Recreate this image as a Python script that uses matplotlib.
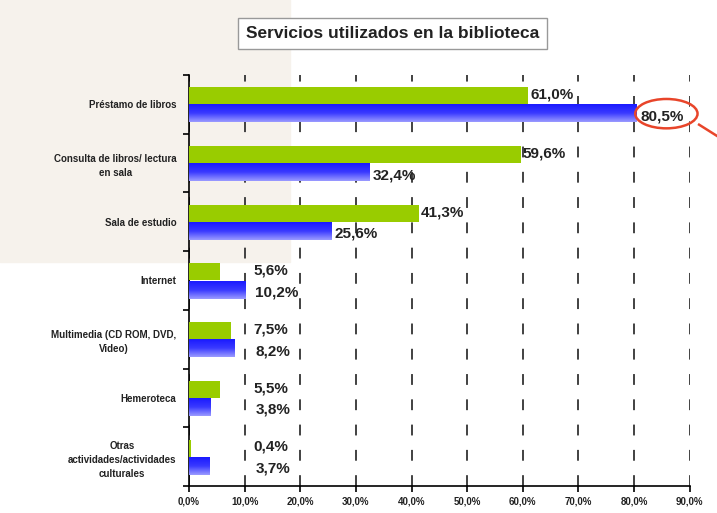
import matplotlib.pyplot as plt
import matplotlib.patches as mpatches
from matplotlib.colors import LinearSegmentedColormap
import numpy as np

plt.rcParams['font.family'] = ['Liberation Sans', 'DejaVu Sans']

categorias = ["Préstamo de libros", "Consulta de libros/ lectura\nen sala", "Sala de estudio",
              "Internet", "Multimedia (CD ROM, DVD,\nVideo)", "Hemeroteca",
              "Otras\nactividades/actividades\nculturales"]
serie_verde = [61.0, 59.6, 41.3, 5.6, 7.5, 5.5, 0.4]
serie_azul = [80.5, 32.4, 25.6, 10.2, 8.2, 3.8, 3.7]
ticks_x = [0, 10, 20, 30, 40, 50, 60, 70, 80, 90]

fig = plt.figure(figsize=(7.17, 5.13), dpi=100)
# faded background photo area
bg = mpatches.Rectangle((0, 0.49), 0.405, 0.51, transform=fig.transFigure,
                        color='#f6f2ec', zorder=-5)
fig.add_artist(bg)
ax = fig.add_axes([0.2636, 0.0526, 0.6984, 0.8014])
ax.set_zorder(2)
ax.patch.set_alpha(0)

n = len(categorias)
y = np.arange(n)
h = 0.29
ax.barh(y - h / 2, serie_verde, height=h, color='#99cc00', zorder=3)
# blue bars with vertical gradient
grad = np.linspace(0, 1, 50).reshape(-1, 1)
cmap = LinearSegmentedColormap.from_list('b', ['#1a1aff', '#3a3aff', '#9a9aff'])
for yi, v in zip(y, serie_azul):
    ax.imshow(grad, cmap=cmap, aspect='auto', extent=(0, v, yi + h + 0.02, yi + 0.02), zorder=3)

for yi, v in zip(y, serie_verde):
    ax.text(max(v, 11.3) + 0.3, yi - h / 2 - 0.02, f"{v:.1f}%".replace('.', ','), fontsize=11,
            va='center', ha='left', color='#222222', fontweight='bold', zorder=5)
for yi, v in zip(y, serie_azul):
    ax.text(max(v, 11.3) + 0.6, yi + h / 2 + 0.06, f"{v:.1f}%".replace('.', ','), fontsize=11,
            va='center', ha='left', color='#222222', fontweight='bold', zorder=5)

ax.set_xlim(0, 90)
ax.set_ylim(n - 0.5, -0.5)
ax.set_xticks(ticks_x)
ax.set_xticklabels([f"{t:.1f}%".replace('.', ',') for t in ticks_x], fontsize=7, fontweight='bold',
                   color='#222222')
ax.set_yticks(y)
ax.set_yticklabels(categorias, fontsize=7, fontweight='bold', color='#222222', multialignment='center',
                   linespacing=1.5)
ax.set_yticks(np.arange(n + 1) - 0.5, minor=True)
ax.tick_params(axis='y', which='major', length=0, pad=9)
ax.tick_params(axis='y', which='minor', length=4, direction='out', width=1.2)
ax.tick_params(axis='x', length=4, width=1.2, direction='out')
ax.xaxis.grid(True, linestyle=(0, (6, 8)), color='#333333', linewidth=1.3, zorder=1)
for s in ['top', 'right']:
    ax.spines[s].set_visible(False)
ax.spines['left'].set_linewidth(1.2)
ax.spines['bottom'].set_linewidth(1.2)

# title box
fig.text(0.547, 0.935, "Servicios utilizados en la biblioteca", ha='center', va='center',
         fontsize=12.5, fontweight='bold', color='#222222', zorder=3,
         bbox=dict(boxstyle='square,pad=0.45', facecolor='white', edgecolor='#999999', linewidth=1))

# red highlight around the largest value
ax.add_patch(mpatches.Ellipse((85.8, 0.16), 11.2, 0.5, fill=False,
                              edgecolor='#e8452a', linewidth=1.8, zorder=6, clip_on=False))
fig.add_artist(plt.Line2D([0.975, 1.0], [0.757, 0.735], color='#e8452a', linewidth=1.8))

fig.savefig('out.png', dpi=100)
